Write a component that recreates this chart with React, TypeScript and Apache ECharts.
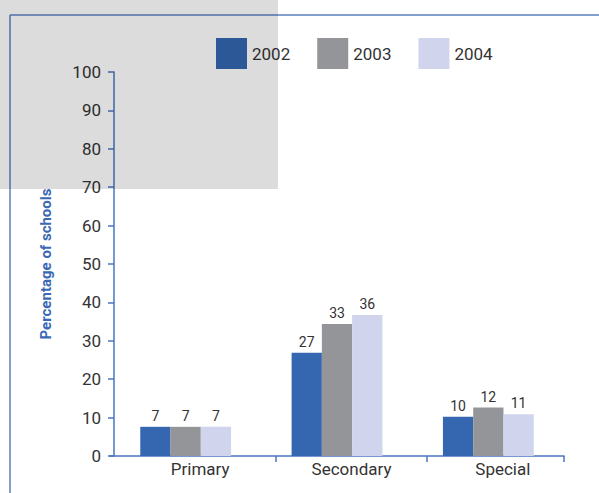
import React, { useEffect, useRef } from "react";
import * as echarts from "echarts";

const categories = ["Primary", "Secondary", "Special"];
const seriesNames = ["2002", "2003", "2004"];
const values2002 = [7.6, 26.9, 10.2];
const values2003 = [7.6, 34.4, 12.6];
const values2004 = [7.6, 36.7, 10.9];
const labels2002 = [7, 27, 10];
const labels2003 = [7, 33, 12];
const labels2004 = [7, 36, 11];
const yTicks = [0, 10, 20, 30, 40, 50, 60, 70, 80, 90, 100];
const colors = ["#3567b1", "#939598", "#d0d4ec"];

const FONT = "Roboto, 'Liberation Sans', sans-serif";
const AXIS_BLUE = "#4a76c0";

export default function App() {
  const ref = useRef<HTMLDivElement>(null);
  useEffect(() => {
    document.body.style.margin = "0";
    const chart = echarts.init(ref.current!, undefined, { renderer: "svg" });
    const valueSets = [values2002, values2003, values2004];
    const labelSets = [labels2002, labels2003, labels2004];
    chart.setOption({
      animation: false,
      backgroundColor: "#ffffff",
      textStyle: { fontFamily: FONT },
      legend: {
        data: seriesNames,
        left: 211,
        top: 33,
        itemWidth: 31,
        itemHeight: 31,
        itemGap: 27,
        icon: "rect",
        textStyle: { fontSize: 17, color: "#333", fontFamily: FONT, padding: [4, 0, 0, 0] },
      },
      grid: [
        { left: 110, width: 454, top: 72, bottom: 37 },
        { left: 124.5, width: 454, top: 72, bottom: 37 },
      ],
      xAxis: [
        {
          type: "category",
          gridIndex: 0,
          data: categories,
          axisLine: { show: true, lineStyle: { color: AXIS_BLUE, width: 1.5 } },
          axisTick: { show: false },
          axisLabel: { show: false },
        },
        {
          type: "value",
          gridIndex: 1,
          min: 0,
          max: 3,
          axisLine: { show: false },
          splitLine: { show: false },
          axisTick: {
            show: true,
            length: 6,
            customValues: [1, 2, 2.9],
            lineStyle: { color: AXIS_BLUE, width: 1.5 },
          },
          axisLabel: {
            show: true,
            customValues: [0.5, 1.5, 2.5],
            formatter: (v: number) => categories[Math.floor(v)],
            fontSize: 17,
            color: "#333",
            margin: 4,
            fontFamily: FONT,
          },
        },
      ],
      yAxis: [
        {
          type: "value",
          gridIndex: 0,
          min: yTicks[0],
          max: yTicks[yTicks.length - 1],
          interval: 10,
          offset: -4,
          name: "Percentage of schools",
          nameLocation: "middle",
          nameRotate: 90,
          nameGap: 61,
          nameTextStyle: {
            color: "#3a68b4",
            fontWeight: "bold",
            fontSize: 15,
            fontFamily: FONT,
          },
          axisLine: { show: true, lineStyle: { color: AXIS_BLUE, width: 1.5 } },
          axisTick: { show: true, length: 6, lineStyle: { color: AXIS_BLUE, width: 1.5 } },
          splitLine: { show: false },
          axisLabel: { fontSize: 17, color: "#333", margin: 13, fontFamily: FONT },
        },
        {
          type: "value",
          gridIndex: 1,
          min: 0,
          max: 100,
          show: false,
        },
      ],
      series: seriesNames.map((name, i) => ({
        name,
        type: "bar",
        xAxisIndex: 0,
        yAxisIndex: 0,
        data: valueSets[i],
        barGap: "0%",
        barCategoryGap: "40%",
        itemStyle: { color: colors[i] },
        label: {
          show: true,
          position: "top",
          distance: 4,
          fontSize: 14,
          color: "#333",
          fontFamily: FONT,
          formatter: (p: any) => String(labelSets[i][p.dataIndex]),
        },
      })),
      graphic: [
        {
          type: "line",
          shape: { x1: 10, y1: 15, x2: 599, y2: 15 },
          style: { stroke: "#5a7fc0", lineWidth: 1.5 },
          z: 50,
        },
        {
          type: "line",
          shape: { x1: 10, y1: 15, x2: 10, y2: 493 },
          style: { stroke: "#5a7fc0", lineWidth: 1.5 },
          z: 50,
        },
        {
          type: "rect",
          shape: { x: 0, y: 0, width: 278, height: 189 },
          style: { fill: "rgba(0,0,0,0.137)" },
          z: 100,
          silent: true,
        },
      ],
    });
    return () => chart.dispose();
  }, []);
  return <div ref={ref} style={{ width: 599, height: 493 }} />;
}
